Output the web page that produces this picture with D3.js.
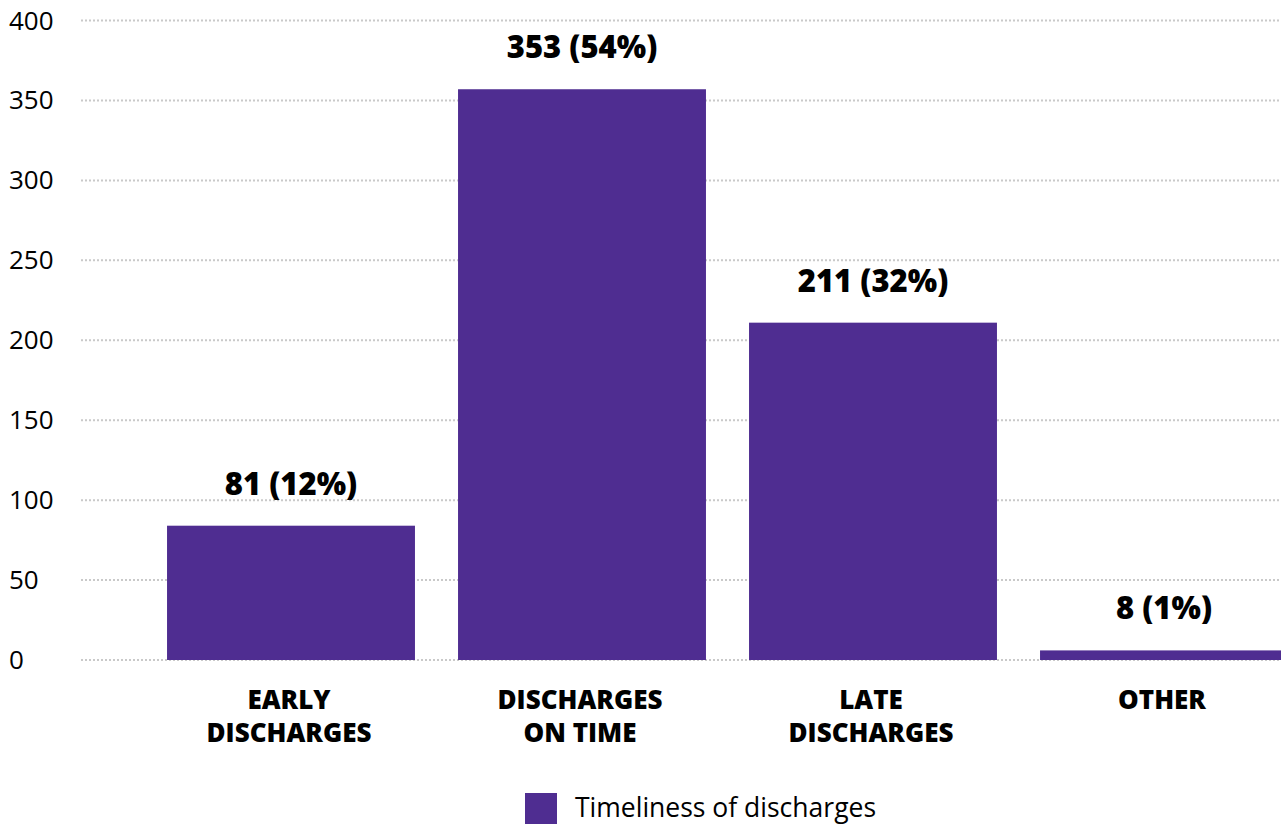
<!DOCTYPE html>
<html>
<head>
<meta charset="utf-8">
<script src="https://cdn.jsdelivr.net/npm/d3@7"></script>
<style>
  body { margin: 0; background: #fff; }
  text { font-family: "Open Sans", "Noto Sans", sans-serif; fill: #000; }
</style>
</head>
<body>
<div id="chart"></div>
<script>
var width = 1281;
var height = 825;

// data
var categories = ["EARLY DISCHARGES", "DISCHARGES ON TIME", "LATE DISCHARGES", "OTHER"];
var categoryLines = [["EARLY", "DISCHARGES"], ["DISCHARGES", "ON TIME"], ["LATE", "DISCHARGES"], ["OTHER"]];
var barValues = [84, 357, 211, 6];
var counts = [81, 353, 211, 8];
var percents = [12, 54, 32, 1];
var yTicks = [0, 50, 100, 150, 200, 250, 300, 350, 400];
var seriesName = "Timeliness of discharges";

var purple = "#4f2d91";

var svg = d3.select("#chart").append("svg")
  .attr("width", width)
  .attr("height", height);

var y = d3.scaleLinear()
  .domain([0, 400])
  .range([660, 20.5]);

var x = d3.scaleBand()
  .domain(categories)
  .range([145.5, 1309.5])
  .paddingInner(0.148)
  .paddingOuter(0.074);

// dotted gridlines
svg.append("g").selectAll("line")
  .data(yTicks)
  .enter().append("line")
  .attr("x1", 81)
  .attr("x2", width)
  .attr("y1", function(d) { return y(d); })
  .attr("y2", function(d) { return y(d); })
  .attr("stroke", "#c9c9c9")
  .attr("stroke-width", 2)
  .attr("stroke-dasharray", "2,2");

// y tick labels
svg.append("g").selectAll("text")
  .data(yTicks)
  .enter().append("text")
  .attr("x", 9)
  .attr("y", function(d) { return y(d) + 9; })
  .attr("font-size", 26)
  .attr("font-weight", 500)
  .text(function(d) { return d; });

// bars
svg.append("g").selectAll("rect")
  .data(barValues)
  .enter().append("rect")
  .attr("x", function(d, i) { return x(categories[i]); })
  .attr("y", function(d) { return y(d); })
  .attr("width", x.bandwidth())
  .attr("height", function(d) { return y(0) - y(d); })
  .attr("fill", purple);

// value labels
svg.append("g").selectAll("text")
  .data(barValues)
  .enter().append("text")
  .attr("x", function(d, i) { return x(categories[i]) + x.bandwidth() / 2; })
  .attr("y", function(d) { return y(d) - 31; })
  .attr("text-anchor", "middle")
  .attr("font-size", 31)
  .attr("font-weight", 800)
  .text(function(d, i) { return counts[i] + " (" + percents[i] + "%)"; });

// category labels
var catLabel = svg.append("g").selectAll("text")
  .data(categories)
  .enter().append("text")
  .attr("x", function(d) { return x(d) + x.bandwidth() / 2 - 2; })
  .attr("y", 709)
  .attr("text-anchor", "middle")
  .attr("font-size", 26)
  .attr("font-weight", 800);

catLabel.selectAll("tspan")
  .data(function(d, i) { return categoryLines[i]; })
  .enter().append("tspan")
  .attr("x", function() { return d3.select(this.parentNode).attr("x"); })
  .attr("dy", function(d, i) { return i === 0 ? 0 : 33; })
  .text(function(d) { return d; });

// legend
svg.append("rect")
  .attr("x", 525)
  .attr("y", 793)
  .attr("width", 32)
  .attr("height", 31)
  .attr("fill", purple);

svg.append("text")
  .attr("x", 575)
  .attr("y", 817)
  .attr("font-size", 26.5)
  .text(seriesName);
</script>
</body>
</html>
